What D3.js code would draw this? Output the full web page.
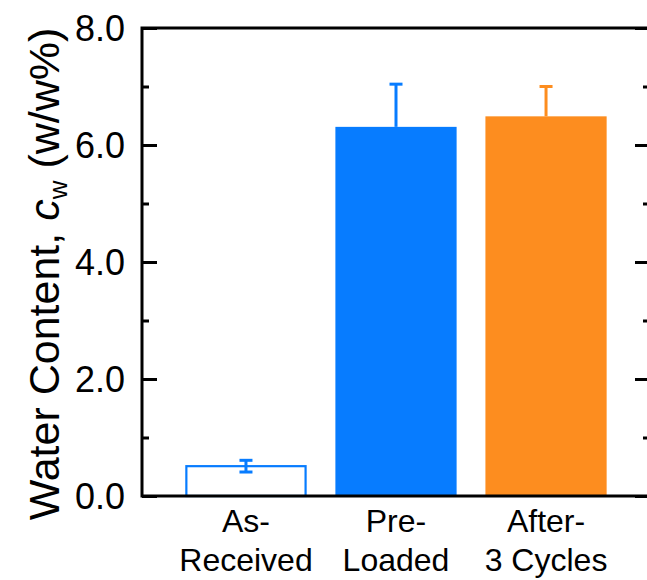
<!DOCTYPE html>
<html>
<head>
<meta charset="utf-8">
<script src="https://cdn.jsdelivr.net/npm/d3@7"></script>
<style>
  html, body { margin: 0; padding: 0; background: #fff; }
  svg { display: block; }
  text { font-family: "Liberation Sans", Arial, sans-serif; fill: #000; }
</style>
</head>
<body>
<svg id="chart" width="647" height="580"></svg>
<script>
// ---- data ----
const categories = ["As-Received", "Pre-Loaded", "After-3 Cycles"];
const labelLines = [["As-", "Received"], ["Pre-", "Loaded"], ["After-", "3 Cycles"]];
const values = [0.51, 6.31, 6.49];
const errors = [0.10, 0.73, 0.51];
const barStyles = ["outline", "filled", "filled"];
const barColors = ["#077cff", "#077cff", "#fd8d1f"];
const yMajorTicks = [0, 2, 4, 6, 8];
const yMinorTicks = [1, 3, 5, 7];
const yTickLabels = ["0.0", "2.0", "4.0", "6.0", "8.0"];

// ---- layout ----
const mLeft = 142, mRight = 650, mTop = 28, mBottom = 496;
const svg = d3.select("#chart");

const x = d3.scaleBand().domain(categories).range([mLeft, mRight])
  .paddingInner(0.192).paddingOuter(0.289);
const y = d3.scaleLinear().domain([0, 8]).range([mBottom, mTop]);

// bars
categories.forEach((c, i) => {
  const bx = x(c), bw = x.bandwidth();
  const yv = y(values[i]);
  const col = barColors[i];
  if (barStyles[i] === "outline") {
    svg.append("rect").attr("x", bx + 1).attr("y", yv)
      .attr("width", bw - 2).attr("height", mBottom - yv)
      .attr("fill", "#fff").attr("stroke", col).attr("stroke-width", 2.2);
  } else {
    svg.append("rect").attr("x", bx).attr("y", yv)
      .attr("width", bw).attr("height", mBottom - yv)
      .attr("fill", col);
  }
  const cx = bx + bw / 2;
  const yTop = y(values[i] + errors[i]);
  const yBot = barStyles[i] === "outline" ? y(values[i] - errors[i]) : yv;
  svg.append("line").attr("x1", cx).attr("x2", cx).attr("y1", yTop).attr("y2", yBot)
    .attr("stroke", col).attr("stroke-width", 3);
  svg.append("line").attr("x1", cx - 6.5).attr("x2", cx + 6.5).attr("y1", yTop).attr("y2", yTop)
    .attr("stroke", col).attr("stroke-width", 3);
  if (barStyles[i] === "outline") {
    svg.append("line").attr("x1", cx - 6.5).attr("x2", cx + 6.5).attr("y1", yBot).attr("y2", yBot)
      .attr("stroke", col).attr("stroke-width", 3);
  }
});

// left axis (ticks inward)
const yAxisL = d3.axisLeft(y).tickValues(yMajorTicks).tickSize(-15)
  .tickFormat((d, i) => yTickLabels[i]).tickPadding(17);
const gL = svg.append("g").attr("transform", `translate(${mLeft},0)`).call(yAxisL);
gL.select(".domain").remove();
gL.selectAll(".tick line").attr("stroke", "#000").attr("stroke-width", 3);
gL.selectAll(".tick text").style("font-size", "36px").attr("dy", "0.36em")
  .style("font-family", '"Liberation Sans", Arial, sans-serif');
const gLm = svg.append("g").attr("transform", `translate(${mLeft},0)`)
  .call(d3.axisLeft(y).tickValues(yMinorTicks).tickSize(-7).tickFormat(""));
gLm.select(".domain").remove();
gLm.selectAll(".tick line").attr("stroke", "#000").attr("stroke-width", 3);

// right axis (ticks inward, no labels)
const gR = svg.append("g").attr("transform", `translate(${mRight},0)`)
  .call(d3.axisRight(y).tickValues(yMajorTicks).tickSize(-15).tickFormat(""));
gR.select(".domain").remove();
gR.selectAll(".tick line").attr("stroke", "#000").attr("stroke-width", 3);
const gRm = svg.append("g").attr("transform", `translate(${mRight},0)`)
  .call(d3.axisRight(y).tickValues(yMinorTicks).tickSize(-7).tickFormat(""));
gRm.select(".domain").remove();
gRm.selectAll(".tick line").attr("stroke", "#000").attr("stroke-width", 3);

// frame
svg.append("path")
  .attr("d", `M${mLeft},${mTop}H${mRight}V${mBottom}H${mLeft}Z`)
  .attr("fill", "none").attr("stroke", "#000").attr("stroke-width", 3)
  .attr("stroke-linejoin", "miter");

// x labels
const gX = svg.append("g");
categories.forEach((c, i) => {
  const cx = x(c) + x.bandwidth() / 2;
  const t = gX.append("text").attr("text-anchor", "middle")
    .style("font-size", "32px");
  labelLines[i].forEach((ln, j) => {
    t.append("tspan").attr("x", cx).attr("y", 532 + j * 39).text(ln);
  });
});

// y title
const title = svg.append("text")
  .attr("transform", `translate(59,${(mTop + mBottom) / 2 + 12}) rotate(-90)`)
  .attr("text-anchor", "middle").style("font-size", "43px");
title.append("tspan").text("Water Content, ");
title.append("tspan").style("font-style", "italic").text("c");
title.append("tspan").style("font-size", "26px").attr("dy", "0.3em").text("w");
title.append("tspan").attr("dy", "-0.18em").text(" (w/w%)");
</script>
</body>
</html>
